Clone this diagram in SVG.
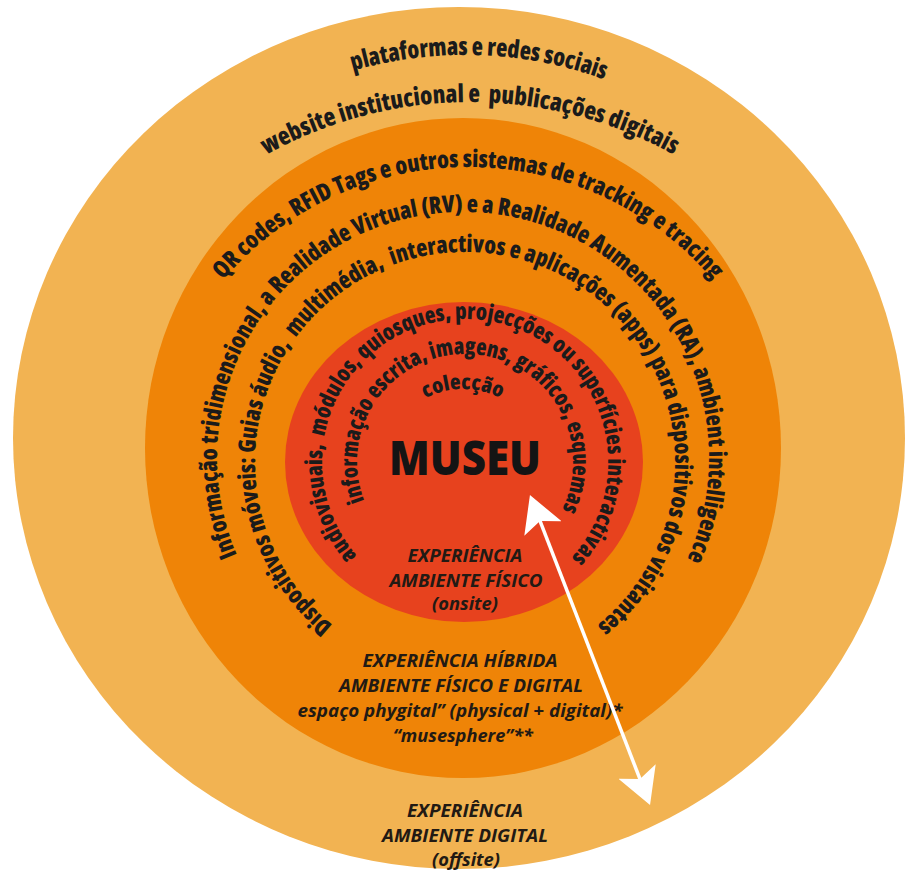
<svg xmlns="http://www.w3.org/2000/svg" width="910" height="889" viewBox="0 0 910 889">
<defs>
<style>
.arc{font-family:"Open Sans","DejaVu Sans",sans-serif;font-weight:800;fill:#1b1b1b;font-stretch:condensed}
.it{font-family:"Open Sans","DejaVu Sans",sans-serif;font-weight:700;font-style:italic;fill:#221a14;font-size:17.5px;text-anchor:middle}
.big{font-family:"Open Sans","DejaVu Sans",sans-serif;font-weight:800;fill:#141414;font-size:48px;text-anchor:middle}
</style>
<path id="pA" d="M352.8,70.8 A407,407 0 0 1 604.2,79.5"/>
<path id="pB" d="M266.4,154.7 A420,420 0 0 1 673.6,154.7"/>
<path id="pC" d="M223.2,279.9 A322,322 0 0 1 712.8,279.9"/>
<path id="pD" d="M236.9,554.9 A246,246 0 1 1 687.4,558.8"/>
<path id="pE" d="M332.8,625.2 A210,210 0 1 1 597.2,625.2"/>
<path id="pF" d="M357.1,555.8 A143,143 0 1 1 571.3,557.7"/>
<path id="pG" d="M364.2,500.7 A108,108 0 1 1 562.1,509.3"/>
<path id="pH" d="M425.4,398.4 A80,80 0 0 1 500.6,398.4"/>
<marker id="ah" markerUnits="userSpaceOnUse" viewBox="0 0 36 40" markerWidth="36" markerHeight="40" refX="32" refY="20" orient="auto-start-reverse">
<path d="M0,0 L36,20 L0,40 L8,20 Z" fill="#ffffff"/>
</marker>
</defs>

<g id="ring-digital">
<ellipse cx="459" cy="438" rx="446" ry="431" fill="#F2B352"/>
<text class="arc" font-size="25"><textPath href="#pA" textLength="255.7" lengthAdjust="spacingAndGlyphs">plataformas e redes sociais</textPath></text>
<text class="arc" font-size="25" xml:space="preserve"><textPath href="#pB" textLength="425" lengthAdjust="spacingAndGlyphs">website institucional e  publicações digitais</textPath></text>
<text class="it" x="465" y="817" textLength="116" lengthAdjust="spacingAndGlyphs">EXPERIÊNCIA</text>
<text class="it" x="465" y="842" textLength="166" lengthAdjust="spacingAndGlyphs">AMBIENTE DIGITAL</text>
<text class="it" x="466" y="866" textLength="68" lengthAdjust="spacingAndGlyphs">(offsite)</text>
</g>

<g id="ring-hybrid">
<ellipse cx="463" cy="448" rx="318" ry="330" fill="#EF8407"/>
<text class="arc" font-size="24"><textPath href="#pC" textLength="556.4" lengthAdjust="spacingAndGlyphs">QR codes, RFID Tags e outros sistemas de tracking e tracing</textPath></text>
<text class="arc" font-size="24"><textPath href="#pD" textLength="976.4" lengthAdjust="spacingAndGlyphs">Informação tridimensional, a Realidade Virtual (RV) e a Realidade Aumentada (RA), ambient intelligence</textPath></text>
<text class="arc" font-size="24" xml:space="preserve"><textPath href="#pE" textLength="1033.6" lengthAdjust="spacingAndGlyphs">Dispositivos móveis: Guias áudio,  multimédia,  interactivos e aplicações (apps) para dispositivos dos visitantes</textPath></text>
<text class="it" x="460" y="667" textLength="195" lengthAdjust="spacingAndGlyphs">EXPERIÊNCIA HÍBRIDA</text>
<text class="it" x="461" y="692" textLength="244" lengthAdjust="spacingAndGlyphs">AMBIENTE FÍSICO E DIGITAL</text>
<text class="it" x="460" y="717" textLength="325" lengthAdjust="spacingAndGlyphs">espaço phygital” (physical + digital)*</text>
<text class="it" x="463" y="742" textLength="140" lengthAdjust="spacingAndGlyphs">“musesphere”**</text>
</g>

<g id="ring-physical">
<ellipse cx="464" cy="462" rx="179" ry="160" fill="#E7421E"/>
<text class="arc" font-size="23" xml:space="preserve"><textPath href="#pF" textLength="656.4" lengthAdjust="spacingAndGlyphs">audiovisuais,  módulos, quiosques, projecções ou superfícies interactivas</textPath></text>
<text class="arc" font-size="23"><textPath href="#pG" textLength="427.9" lengthAdjust="spacingAndGlyphs">informação escrita, imagens, gráficos, esquemas</textPath></text>
<text class="arc" font-size="21"><textPath href="#pH" textLength="78.2" lengthAdjust="spacingAndGlyphs">colecção</textPath></text>
<text class="it" x="465" y="562" textLength="115" lengthAdjust="spacingAndGlyphs">EXPERIÊNCIA</text>
<text class="it" x="466" y="587" textLength="153" lengthAdjust="spacingAndGlyphs">AMBIENTE FÍSICO</text>
<text class="it" x="465" y="610" textLength="66" lengthAdjust="spacingAndGlyphs">(onsite)</text>
</g>

<g id="museu">
<text class="big" x="465" y="475" textLength="152" lengthAdjust="spacingAndGlyphs">MUSEU</text>
</g>

<g id="connectors">
<line x1="531.4" y1="498.7" x2="648.6" y2="801.3" stroke="#ffffff" stroke-width="3.5" marker-start="url(#ah)" marker-end="url(#ah)"/>
</g>
</svg>
